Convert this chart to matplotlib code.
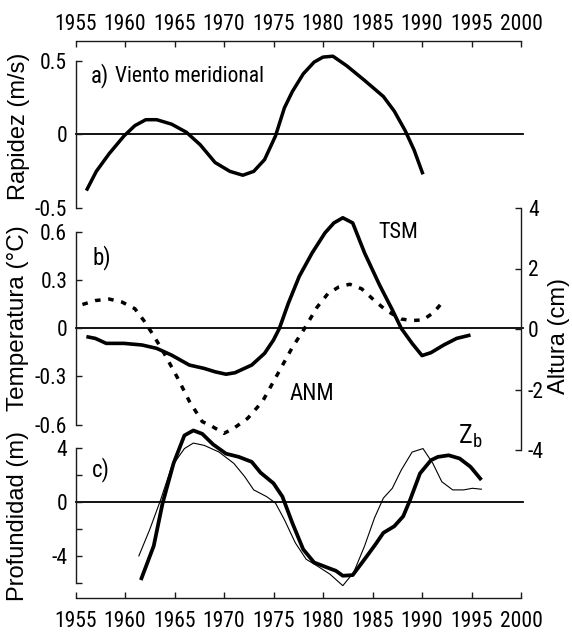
import matplotlib
matplotlib.use("Agg")
import matplotlib.pyplot as plt
from matplotlib import font_manager
from matplotlib.ticker import FixedLocator, FixedFormatter

# ---------------- data ----------------
years_wind = [1956.1, 1957.1, 1958.4, 1959.9, 1961.0, 1962.1, 1963.2, 1964.7, 1966.2, 1967.6,
              1969.1, 1970.6, 1971.9, 1973.0, 1974.1, 1975.2, 1976.1, 1976.9, 1978.0, 1979.1,
              1980.0, 1981.0, 1982.4, 1984.2, 1986.1, 1987.2, 1988.3, 1989.2, 1990.1]
wind = [-0.38, -0.25, -0.13, -0.01, 0.06, 0.10, 0.10, 0.07, 0.015, -0.07,
        -0.19, -0.25, -0.276, -0.25, -0.17, -0.01, 0.18, 0.29, 0.41, 0.49,
        0.524, 0.53, 0.465, 0.366, 0.257, 0.158, 0.026, -0.105, -0.27]

years_tsm = [1956.1, 1957.0, 1958.1, 1959.9, 1961.7, 1963.2, 1964.7, 1966.5, 1968.0, 1969.1,
             1970.2, 1971.1, 1972.8, 1974.1, 1975.0, 1975.6, 1976.5, 1977.6, 1978.9, 1980.2,
             1981.1, 1982.0, 1983.0, 1984.2, 1985.7, 1987.0, 1987.9, 1989.0, 1990.0, 1990.9,
             1992.2, 1993.5, 1994.9]
tsm = [-0.052, -0.063, -0.094, -0.094, -0.104, -0.125, -0.167, -0.229, -0.25, -0.271,
       -0.286, -0.277, -0.229, -0.156, -0.073, 0.0, 0.156, 0.323, 0.469, 0.594,
       0.656, 0.688, 0.656, 0.469, 0.271, 0.115, 0.0, -0.094, -0.170, -0.152,
       -0.104, -0.063, -0.042]

years_anm = [1955.7, 1957.0, 1958.4, 1959.7, 1961.0, 1961.9, 1962.9, 1964.0, 1965.3, 1966.5,
             1967.8, 1968.8, 1970.0, 1971.0, 1972.4, 1973.9, 1975.4, 1976.9, 1978.1, 1979.4,
             1980.5, 1981.6, 1982.7, 1983.9, 1985.2, 1986.4, 1987.9, 1989.0, 1990.1, 1991.2,
             1992.2]
anm = [0.81, 0.94, 0.99, 0.89, 0.67, 0.28, -0.22, -0.83, -1.61, -2.39,
       -3.06, -3.22, -3.45, -3.28, -2.95, -2.39, -1.5, -0.61, 0.0, 0.72,
       1.17, 1.39, 1.48, 1.33, 0.94, 0.61, 0.33, 0.28, 0.30, 0.55,
       0.94]

years_zb = [1961.6, 1962.9, 1963.8, 1964.9, 1966.0, 1966.9, 1967.8, 1968.9, 1970.2, 1971.5,
            1972.8, 1973.7, 1975.0, 1975.9, 1976.9, 1978.0, 1979.1, 1980.4, 1981.3, 1982.0,
            1983.0, 1984.2, 1985.3, 1986.1, 1987.2, 1988.1, 1988.8, 1989.8, 1990.9, 1991.6,
            1992.7, 1993.8, 1994.9, 1996.0]
zb = [-5.81, -3.27, -0.07, 2.88, 4.97, 5.34, 5.09, 4.30, 3.61, 3.37,
      3.0, 2.19, 1.40, 0.41, -1.55, -3.52, -4.5, -4.87, -5.12, -5.49,
      -5.44, -4.26, -3.15, -2.29, -1.80, -1.06, 0.17, 2.14, 3.12, 3.37,
      3.49, 3.25, 2.63, 1.65]

years_thin = [1961.4, 1962.5, 1963.6, 1964.7, 1966.0, 1966.9, 1968.0, 1969.5, 1971.0, 1972.1,
              1973.0, 1974.3, 1975.2, 1976.1, 1977.2, 1978.3, 1979.4, 1980.7, 1982.0, 1983.1,
              1984.2, 1985.2, 1986.1, 1987.0, 1987.9, 1989.0, 1990.1, 1991.1, 1992.0, 1993.1,
              1994.2, 1995.1, 1996.0]
thin = [-4.01, -2.04, 0.17, 2.63, 3.99, 4.40, 4.23, 3.73, 2.88, 1.89,
        0.91, 0.41, -0.07, -1.31, -3.03, -4.26, -4.75, -5.37, -6.23, -5.24,
        -3.27, -1.18, 0.30, 1.03, 2.38, 3.73, 3.99, 2.88, 1.52, 0.91,
        0.91, 1.03, 0.96]

year_ticks = [1955, 1960, 1965, 1970, 1975, 1980, 1985, 1990, 1995, 2000]
a_ticks = [-0.5, 0, 0.5]
a_labels = ["-0.5", "0", "0.5"]
b_ticks = [-0.6, -0.3, 0, 0.3, 0.6]
b_labels = ["-0.6", "-0.3", "0", "0.3", "0.6"]
b2_ticks = [-4, -2, 0, 2, 4]
b2_labels = ["-4", "-2", "0", "2", "4"]
c_ticks = [-4, 0, 4]
c_labels = ["-4", "0", "4"]
c_minor = [-6, -2, 2]

# ---------------- fonts ----------------
def pick(names):
    for n in names:
        try:
            font_manager.findfont(font_manager.FontProperties(family=n), fallback_to_default=False)
            return n
        except Exception:
            pass
    return None


NARROW = pick(["Liberation Sans Narrow", "Arial Narrow", "Roboto Condensed",
               "Noto Sans Condensed", "Open Sans Condensed", "DejaVu Sans Condensed"])
REG = pick(["Liberation Sans", "Arial"]) or "DejaVu Sans"
if NARROW:
    MAIN = NARROW
    K = 1.0
else:
    MAIN = REG
    K = 0.87
plt.rcParams["font.family"] = MAIN
plt.rcParams["axes.unicode_minus"] = False

W, H = 572, 632
fig = plt.figure(figsize=(W / 100, H / 100), dpi=100)
X0, X1 = 75.5, 521.0
AX_COL = "#1a1a1a"
XT = 15.5 * K
YT = 15.5 * K


def rect(y0, y1):
    return [X0 / W, 1 - y1 / H, (X1 - X0) / W, (y1 - y0) / H]


def base(ax):
    ax.patch.set_visible(False)
    for s in ax.spines.values():
        s.set_visible(False)
        s.set_color(AX_COL)
        s.set_linewidth(1.0)
    ax.set_xlim(1955, 2000)
    ax.tick_params(which="both", direction="in", length=4, width=1.0, color=AX_COL,
                   labelsize=YT, labelcolor="black")


def zero(ax):
    ax.axhline(0, xmin=0, xmax=1.004, color="black", lw=1.3, clip_on=False, zorder=1)


# ---------------- panel a ----------------
axa = fig.add_axes(rect(40.7, 208.3))
base(axa)
axa.set_ylim(-0.5, 0.635)
axa.spines["top"].set_visible(True)
axa.spines["left"].set_visible(True)
axa.spines["left"].set_bounds(-0.5, 0.5)
axa.xaxis.set_ticks_position("top")
axa.xaxis.set_label_position("top")
axa.set_xticks(year_ticks)
axa.set_xticklabels([str(y) for y in year_ticks])
axa.tick_params(axis="x", labelsize=XT, pad=4)
axa.yaxis.set_major_locator(FixedLocator(a_ticks))
axa.yaxis.set_major_formatter(FixedFormatter(a_labels))
axa.tick_params(axis="y", pad=6)
zero(axa)
axa.plot(years_wind, wind, color="black", lw=2.5, solid_joinstyle="round",
         solid_capstyle="butt", zorder=3)

# ---------------- panel b ----------------
axb = fig.add_axes(rect(208.0, 450.0))
base(axb)
axb.set_ylim(-0.758, 0.749)
axb.spines["left"].set_visible(True)
axb.spines["left"].set_bounds(-0.6, 0.6)
axb.set_xticks([])
axb.yaxis.set_major_locator(FixedLocator(b_ticks))
axb.yaxis.set_major_formatter(FixedFormatter(b_labels))
axb.tick_params(axis="y", pad=6)
zero(axb)
axb.plot(years_tsm, tsm, color="black", lw=2.6, solid_joinstyle="round",
         solid_capstyle="butt", zorder=3, clip_on=False)

axb2 = fig.add_axes(rect(208.0, 450.0))
base(axb2)
axb2.set_ylim(-4, 4)
axb2.spines["right"].set_visible(True)
axb2.yaxis.set_ticks_position("right")
axb2.set_xticks([])
axb2.yaxis.set_major_locator(FixedLocator(b2_ticks))
axb2.yaxis.set_major_formatter(FixedFormatter(b2_labels))
axb2.tick_params(axis="y", pad=5)
axb2.plot(years_anm, anm, color="black", lw=2.5, linestyle=(0, (1.6, 2.2)),
          dash_capstyle="butt", zorder=3, clip_on=False)

# ---------------- panel c ----------------
axc = fig.add_axes(rect(420.0, 598.3))
base(axc)
axc.set_ylim(-7.17, 6.12)
axc.spines["left"].set_visible(True)
axc.spines["left"].set_bounds(-6, 4)
axc.spines["bottom"].set_visible(True)
axc.set_xticks(year_ticks)
axc.set_xticklabels([str(y) for y in year_ticks])
axc.tick_params(axis="x", labelsize=XT, pad=9)
axc.yaxis.set_major_locator(FixedLocator(c_ticks))
axc.yaxis.set_major_formatter(FixedFormatter(c_labels))
axc.yaxis.set_minor_locator(FixedLocator(c_minor))
axc.tick_params(axis="y", pad=6)
zero(axc)
axc.plot(years_thin, thin, color="black", lw=0.8, solid_joinstyle="round", zorder=3)
axc.plot(years_zb, zb, color="black", lw=2.7, solid_joinstyle="round",
         solid_capstyle="butt", zorder=4)

# ---------------- texts ----------------
def ftext(x, y, s, **kw):
    fig.text(x / W, 1 - y / H, s, **kw)


ftext(91, 76, "a)", fontsize=16.5 * K, va="center", ha="left")
ftext(115, 77, "Viento meridional", fontsize=15.5 * K, va="center", ha="left")
ftext(92, 258, "b)", fontsize=16.5 * K, va="center", ha="left")
ftext(378, 233, "TSM", fontsize=16 * K, va="center", ha="left")
ftext(290, 393, "ANM", fontsize=16.5 * K, va="center", ha="left")
ftext(92, 470, "c)", fontsize=16.5 * K, va="center", ha="left")
ftext(458, 436, r"Z$_\mathregular{b}$", fontsize=19 * K, va="center", ha="left")

ylab = dict(fontsize=17, rotation=90, va="center", ha="center", family=REG)
ftext(19, 126, "Rapidez (m/s)", **ylab)
ftext(18, 318, "Temperatura (°C)", fontsize=17.5, rotation=90, va="center",
      ha="center", family=REG)
ftext(18, 516, "Profundidad (m)", **ylab)
ftext(559, 336, "Altura (cm)", **ylab)

fig.savefig("out.png", dpi=100)
